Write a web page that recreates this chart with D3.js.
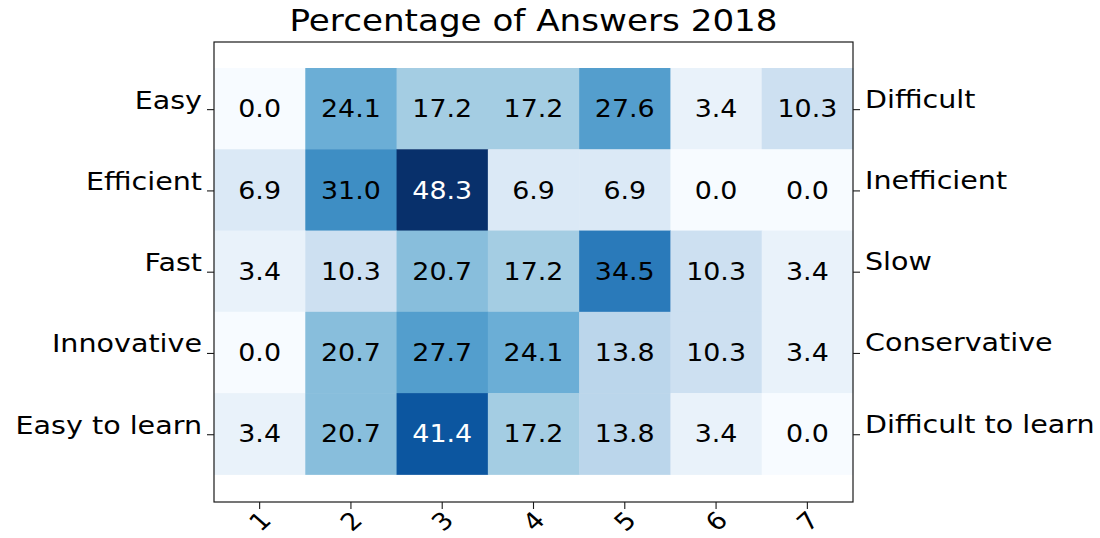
<!DOCTYPE html>
<html>
<head>
<meta charset="utf-8">
<script src="https://cdn.jsdelivr.net/npm/d3@7"></script>
<style>
  html, body { margin: 0; padding: 0; background: #fff; }
  svg { display: block; font-family: "DejaVu Sans", sans-serif; }
</style>
</head>
<body>
<svg id="chart" width="1100" height="538"></svg>
<script>
// ---- data ----
const title = "Percentage of Answers 2018";
const columns = ["1", "2", "3", "4", "5", "6", "7"];
const leftLabels = ["Easy", "Efficient", "Fast", "Innovative", "Easy to learn"];
const rightLabels = ["Difficult", "Inefficient", "Slow", "Conservative", "Difficult to learn"];
const rowEasy = [0.0, 24.1, 17.2, 17.2, 27.6, 3.4, 10.3];
const rowEfficient = [6.9, 31.0, 48.3, 6.9, 6.9, 0.0, 0.0];
const rowFast = [3.4, 10.3, 20.7, 17.2, 34.5, 10.3, 3.4];
const rowInnovative = [0.0, 20.7, 27.7, 24.1, 13.8, 10.3, 3.4];
const rowEasyToLearn = [3.4, 20.7, 41.4, 17.2, 13.8, 3.4, 0.0];
const values = [rowEasy, rowEfficient, rowFast, rowInnovative, rowEasyToLearn];

// ---- layout ----
const svg = d3.select("#chart");
const frame = { left: 214, right: 853, top: 42, bottom: 502 };
const stretch = 1.12; // horizontal stretch of the reference image

const x = d3.scaleLinear().domain([-0.5, columns.length - 0.5]).range([frame.left, frame.right]);
const y = d3.scaleLinear().domain([-0.82, leftLabels.length - 1 + 0.84]).range([frame.top, frame.bottom]);

const vmax = d3.max(values.flat());
const blues = ["#f7fbff","#deebf7","#c6dbef","#9ecae1","#6baed6","#4292c6","#2171b5","#08519c","#08306b"];
const color = d3.scaleLinear()
  .domain(blues.map((_, i) => vmax * i / (blues.length - 1)))
  .range(blues)
  .interpolate(d3.interpolateRgb);

const cells = [];
values.forEach((row, r) => row.forEach((v, c) => cells.push({ r, c, v })));

// cells
svg.append("g").selectAll("rect").data(cells).join("rect")
  .attr("x", d => x(d.c - 0.5))
  .attr("y", d => y(d.r - 0.5))
  .attr("width", d => x(d.c + 0.5) - x(d.c - 0.5) + 0.5)
  .attr("height", d => y(d.r + 0.5) - y(d.r - 0.5) + 0.5)
  .attr("fill", d => color(d.v));

// cell text
svg.append("g").selectAll("text").data(cells).join("text")
  .attr("transform", d => `translate(${x(d.c)},${y(d.r)}) scale(${stretch},1)`)
  .attr("text-anchor", "middle")
  .attr("dy", "0.36em")
  .attr("font-size", 24)
  .attr("fill", d => d.v > vmax * 0.75 ? "#ffffff" : "#000000")
  .text(d => d.v.toFixed(1));

// frame
svg.append("rect")
  .attr("x", frame.left).attr("y", frame.top)
  .attr("width", frame.right - frame.left).attr("height", frame.bottom - frame.top)
  .attr("fill", "none").attr("stroke", "#1a1a1a").attr("stroke-width", 1.2);

// x axis ticks
const xg = svg.append("g");
columns.forEach((lab, i) => {
  xg.append("line")
    .attr("x1", x(i)).attr("x2", x(i))
    .attr("y1", frame.bottom).attr("y2", frame.bottom + 7)
    .attr("stroke", "#1a1a1a").attr("stroke-width", 1.1);
  xg.append("text")
    .attr("transform", `translate(${x(i)},${frame.bottom + 19}) scale(${stretch},1) rotate(-45)`)
    .attr("text-anchor", "middle")
    .attr("dy", "0.36em")
    .attr("font-size", 24)
    .attr("fill", "#000")
    .text(lab);
});

// left y labels
const lg = svg.append("g");
leftLabels.forEach((lab, i) => {
  lg.append("line")
    .attr("x1", frame.left - 7).attr("x2", frame.left)
    .attr("y1", y(i) + 1).attr("y2", y(i) + 1)
    .attr("stroke", "#1a1a1a").attr("stroke-width", 1.1);
  lg.append("text")
    .attr("transform", `translate(${frame.left - 12},${y(i)}) scale(${stretch},1)`)
    .attr("text-anchor", "end")
    .attr("font-size", 25.5)
    .attr("fill", "#000")
    .text(lab);
});

// right y labels
const rg = svg.append("g");
rightLabels.forEach((lab, i) => {
  rg.append("line")
    .attr("x1", frame.right).attr("x2", frame.right + 7)
    .attr("y1", y(i) + 1).attr("y2", y(i) + 1)
    .attr("stroke", "#1a1a1a").attr("stroke-width", 1.1);
  rg.append("text")
    .attr("transform", `translate(${frame.right + 12},${y(i) - 1}) scale(${stretch},1)`)
    .attr("text-anchor", "start")
    .attr("font-size", 25.5)
    .attr("fill", "#000")
    .text(lab);
});

// title
svg.append("text")
  .attr("transform", `translate(${(frame.left + frame.right) / 2},${31}) scale(${stretch},1)`)
  .attr("text-anchor", "middle")
  .attr("font-size", 30.5)
  .attr("fill", "#000")
  .text(title);
</script>
</body>
</html>
